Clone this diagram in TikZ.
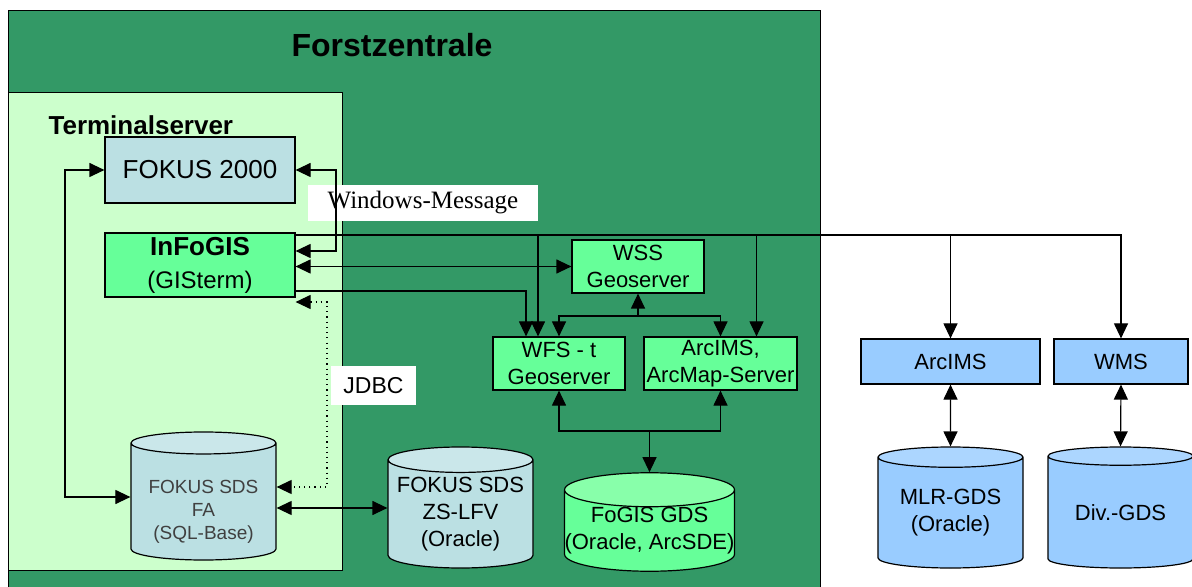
\documentclass[tikz,border=0pt]{standalone}
\usepackage{fontspec}
\setmainfont{Liberation Sans}
\newfontfamily\msgfont{Liberation Serif}
\usepackage{tikz}
\usetikzlibrary{arrows.meta}
\usetikzlibrary{shapes.geometric}
\definecolor{zentrale}{RGB}{51,153,102}
\definecolor{terminal}{RGB}{204,255,204}
\definecolor{fokusblue}{RGB}{187,224,227}
\definecolor{sdstop}{RGB}{202,231,234}
\definecolor{gisgreen}{RGB}{102,255,153}
\definecolor{gistop}{RGB}{136,255,170}
\definecolor{extblue}{RGB}{153,204,255}
\definecolor{exttop}{RGB}{172,214,255}
\tikzstyle{boxnode} = [draw, rectangle, inner sep=0pt, align=center, font=\fontsize{11}{13.5}\selectfont]
\tikzstyle{dbnode} = [draw, cylinder, shape border rotate=90, aspect=0.2, anchor=shape center, inner sep=0pt, align=center, cylinder uses custom fill, font=\fontsize{11}{13.5}\selectfont]
\tikzstyle{labelnode} = [fill=white, inner sep=0pt]
\tikzstyle{arr} = [-{Triangle[length=7.5pt,width=7pt]}]
\tikzstyle{biarr} = [{Triangle[length=7.5pt,width=7pt]}-{Triangle[length=7.5pt,width=7pt]}]

\begin{document}
\begin{tikzpicture}[x=0.5pt, y=-0.5pt, line width=0.6pt]
  \useasboundingbox (0,0) rectangle (1192,587);

  % frames
  \node[draw, fill=zentrale, anchor=north west, inner sep=0pt, minimum width=406pt, minimum height=292pt] (zentrale) at (8,10) {};
  \node[font=\bfseries\fontsize{16}{18}\selectfont] (zentrale title) at (392,45) {Forstzentrale};
  \node[draw, fill=terminal, anchor=north west, inner sep=0pt, minimum width=167pt, minimum height=239pt] (terminal) at (8,92) {};
  \node[anchor=west, inner sep=0pt, font=\bfseries\fontsize{13}{15}\selectfont] (terminal title) at (48,125) {Terminalserver};

  % boxes
  \node[boxnode, fill=fokusblue, minimum width=95pt, minimum height=33pt, font=\fontsize{13}{15}\selectfont] (fokus2000) at (200,170) {FOKUS 2000};
  \node[boxnode, fill=gisgreen, minimum width=95pt, minimum height=32pt, font=\fontsize{12}{16.5}\selectfont] (infogis) at (200,265) {{\bfseries\fontsize{13}{16.5}\selectfont InFoGIS}\\(GISterm)};
  \node[boxnode, fill=gisgreen, minimum width=66pt, minimum height=26.5pt] (wss) at (638,266.5) {WSS\\Geoserver};
  \node[boxnode, fill=gisgreen, minimum width=66pt, minimum height=26.5pt] (wfs) at (559,363.5) {WFS - t\\Geoserver};
  \node[boxnode, fill=gisgreen, minimum width=76.5pt, minimum height=26.5pt] (arcmap) at (720.5,363.5) {ArcIMS,\\ArcMap-Server};
  \node[boxnode, fill=extblue, minimum width=89.5pt, minimum height=22.5pt] (arcims) at (950.5,361.5) {ArcIMS};
  \node[boxnode, fill=extblue, minimum width=67pt, minimum height=22.5pt] (wms) at (1121,361.5) {WMS};

  % databases
  \node[dbnode, cylinder body fill=fokusblue, cylinder end fill=sdstop, minimum width=72.5pt, minimum height=64pt, text=darkgray, font=\fontsize{9.5}{11.5}\selectfont] (sdsfa) at (203.5,496) {\rule{0pt}{17pt}FOKUS SDS\\FA\\(SQL-Base)};
  \node[dbnode, cylinder body fill=fokusblue, cylinder end fill=sdstop, minimum width=72.5pt, minimum height=60.5pt] (sdszs) at (460.5,507.5) {FOKUS SDS\\ZS-LFV\\(Oracle)};
  \node[dbnode, cylinder body fill=gisgreen, cylinder end fill=gistop, minimum width=84.5pt, minimum height=48pt] (fogisgds) at (649.5,522) {FoGIS GDS\\(Oracle, ArcSDE)};
  \node[dbnode, cylinder body fill=extblue, cylinder end fill=exttop, minimum width=72.5pt, minimum height=60.5pt] (mlrgds) at (950.5,507.5) {MLR-GDS\\(Oracle)};
  \node[dbnode, cylinder body fill=extblue, cylinder end fill=exttop, minimum width=72.5pt, minimum height=60.5pt] (divgds) at (1120.5,507.5) {Div.-GDS};

  % labels
  \node[labelnode, minimum width=115pt, minimum height=18pt, font=\msgfont\fontsize{12.5}{14}\selectfont] (winmsg) at (423,203) {Windows-Message};
  \node[labelnode, minimum width=42.5pt, minimum height=19.5pt, font=\fontsize{11.5}{13}\selectfont] (jdbc) at (373.5,385.5) {JDBC};

  % connectors
  \draw[biarr] (fokus2000.east) -- (336,170) |- (infogis.east |- 0,251);
  \draw[biarr] (fokus2000.west) -- (65,170) |- (sdsfa.west |- 0,497);
  \draw[biarr, dotted] (infogis.south east |- 0,302) -- (327,302) |- (sdsfa.east |- 0,487);
  \draw[biarr] (sdsfa.east |- 0,508) -- (sdszs.west |- 0,508);
  \draw[biarr] (infogis.east |- wss.west) -- (wss.west);
  \draw[arr] (infogis.east |- 0,291) -| ([xshift=-16.5pt]wfs.north);
  \draw[arr] (infogis.east |- 0,235) -| ([xshift=-10.5pt]wfs.north);
  \draw[arr] (infogis.east |- 0,235) -| ([xshift=18pt]arcmap.north);
  \draw[arr] (infogis.east |- 0,235) -| (arcims.north);
  \draw[arr] (infogis.east |- 0,235) -| (wms.north);
  \draw[arr] (wss.south |- 0,316) -- (wss.south);
  \draw[arr] (wss.south |- 0,316) -| (wfs.north);
  \draw[arr] (wss.south |- 0,316) -| (arcmap.north);
  \draw[arr] (fogisgds.north |- 0,431) -- (fogisgds.north);
  \draw[arr] (fogisgds.north |- 0,431) -| (wfs.south);
  \draw[arr] (fogisgds.north |- 0,431) -| (arcmap.south);
  \draw[biarr] (arcims.south) -- (mlrgds.north);
  \draw[biarr] (wms.south) -- (divgds.north);
\end{tikzpicture}
\end{document}
